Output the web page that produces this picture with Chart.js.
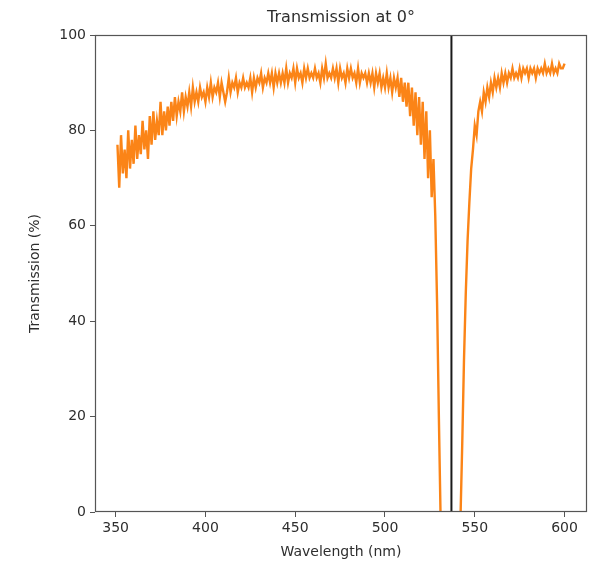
<!DOCTYPE html>
<html>
<head>
<meta charset="utf-8">
<script src="https://cdn.jsdelivr.net/npm/chart.js@4/dist/chart.umd.min.js"></script>
<style>
    html, body { margin: 0; padding: 0; background: #ffffff; }
</style>
</head>
<body>
<canvas id="graficoTransmissao" width="600" height="567"></canvas>
<script>
// sampling grid of the spectrometer (nm)
var inicioOnda = 351;
var passoOnda = 1;

// transmission (%), one value per nm from 351 to 600
var transmissao = [
    77, 68, 79, 71, 76, 70, 80, 72, 78, 73,
    81, 74, 79, 75, 82, 76, 80, 74, 83, 77,
    84, 78, 82, 79, 86, 79, 84, 80, 85, 81,
    86, 82, 87, 83, 86, 84, 88, 84, 87, 85,
    88, 85, 89, 86, 88, 86, 89, 87, 88, 86,
    89, 87, 90, 87, 89, 88, 90, 87, 90, 88,
    86, 88, 91, 88, 90, 89, 91, 88, 90, 89,
    91, 89, 90, 89, 91, 88, 91, 89, 91, 90,
    92, 89, 91, 90, 92, 90, 92, 89, 92, 90,
    92, 90, 92, 90, 93, 90, 92, 91, 93, 90,
    93, 91, 92, 90, 93, 91, 93, 91, 92, 91,
    93, 91, 92, 90, 93, 91, 94, 91, 92, 91,
    93, 91, 93, 90, 93, 91, 92, 90, 93, 91,
    93, 91, 92, 90, 93, 90, 92, 91, 92, 90,
    92, 90, 92, 89, 92, 90, 92, 89, 91, 89,
    92, 89, 91, 88, 91, 89, 91, 87, 91, 86,
    90, 85, 90, 83, 89, 81, 88, 79, 87, 77,
    86, 74, 84, 70, 80, 66, 74, 62, 44, 20,
    -2, -4, -4, -4, -4, -4, -4, -4, -4, -4,
    -4, -2, 14, 32, 46, 57, 65, 72, 76, 81,
    79, 84, 86, 84, 88, 86, 89, 87, 90, 88,
    91, 89, 91, 89, 92, 90, 92, 90, 92, 91,
    93, 91, 92, 91, 93, 91, 93, 92, 93, 91,
    93, 92, 93, 91, 93, 92, 93, 92, 94, 92,
    93, 92, 94, 92, 93, 92, 94, 93, 93, 94
];

// vertical marker (nm)
var linhaMarcador = 537;

var ticksX = [350, 400, 450, 500, 550, 600];
var ticksY = [0, 20, 40, 60, 80, 100];
var limitesX = [338.5, 612.5];
var limitesY = [0, 100];

var tituloGrafico = 'Transmission at 0°';
var tituloX = 'Wavelength (nm)';
var tituloY = 'Transmission (%)';

function montarPontos() {
    var pontos = [];
    for (var i = 0; i < transmissao.length; i++)
        pontos.push({ x: inicioOnda + i * passoOnda, y: transmissao[i] });
    return pontos;
}

var corTexto = '#2e2e2e';
var corEixo = '#555555';
var fonte = 'DejaVu Sans';

var moldura = {
    id: 'moldura',
    afterDraw: function (chart) {
        var ctx = chart.ctx;
        var area = chart.chartArea;

        ctx.save();
        ctx.strokeStyle = corEixo;
        ctx.lineWidth = 1.2;
        ctx.strokeRect(area.left + 0.5, area.top + 0.5, area.right - area.left - 1, area.bottom - area.top - 1);

        ctx.fillStyle = corTexto;
        ctx.textAlign = 'center';
        ctx.textBaseline = 'middle';

        ctx.font = '16px "' + fonte + '"';
        ctx.fillText(tituloGrafico, (area.left + area.right) / 2, 18);

        ctx.font = '14px "' + fonte + '"';
        ctx.fillText(tituloX, (area.left + area.right) / 2, 552);

        ctx.translate(35, (area.top + area.bottom) / 2);
        ctx.rotate(-Math.PI / 2);
        ctx.fillText(tituloY, 0, 0);
        ctx.restore();
    }
};

function inicializarGrafico() {
    var elemento = document.getElementById('graficoTransmissao');

    if (!elemento)
        return;

    var contexto = elemento.getContext('2d');

    new Chart(contexto, {
        type: 'line',
        data: {
            datasets: [{
                label: 'marcador',
                data: [{ x: linhaMarcador, y: limitesY[0] }, { x: linhaMarcador, y: limitesY[1] }],
                borderColor: '#1a1a1a',
                borderWidth: 2,
                pointRadius: 0,
                order: 0
            }, {
                label: 'transmissao',
                data: montarPontos(),
                borderColor: '#fb8417',
                borderWidth: 2.4,
                pointRadius: 0,
                tension: 0,
                order: 1
            }]
        },
        options: {
            responsive: false,
            animation: false,
            devicePixelRatio: 1,
            layout: { padding: { top: 35, right: 13, left: 0, bottom: 0 } },
            scales: {
                x: {
                    type: 'linear',
                    min: limitesX[0],
                    max: limitesX[1],
                    afterBuildTicks: function (escala) {
                        escala.ticks = ticksX.map(function (v) { return { value: v }; });
                    },
                    afterFit: function (escala) { escala.height = 55; },
                    ticks: {
                        color: corTexto,
                        font: { size: 14, family: fonte },
                        padding: 3,
                        maxRotation: 0
                    },
                    grid: {
                        display: true,
                        drawOnChartArea: false,
                        drawTicks: true,
                        tickLength: 5,
                        color: corEixo
                    },
                    border: { display: false }
                },
                y: {
                    type: 'linear',
                    min: limitesY[0],
                    max: limitesY[1],
                    afterBuildTicks: function (escala) {
                        escala.ticks = ticksY.map(function (v) { return { value: v }; });
                    },
                    afterFit: function (escala) { escala.width = 95; },
                    ticks: {
                        color: corTexto,
                        font: { size: 14, family: fonte },
                        padding: 4
                    },
                    grid: {
                        display: true,
                        drawOnChartArea: false,
                        drawTicks: true,
                        tickLength: 5,
                        color: corEixo
                    },
                    border: { display: false }
                }
            },
            plugins: {
                legend: { display: false },
                tooltip: { enabled: false },
                title: { display: false }
            }
        },
        plugins: [moldura]
    });
}

inicializarGrafico();
</script>
</body>
</html>
